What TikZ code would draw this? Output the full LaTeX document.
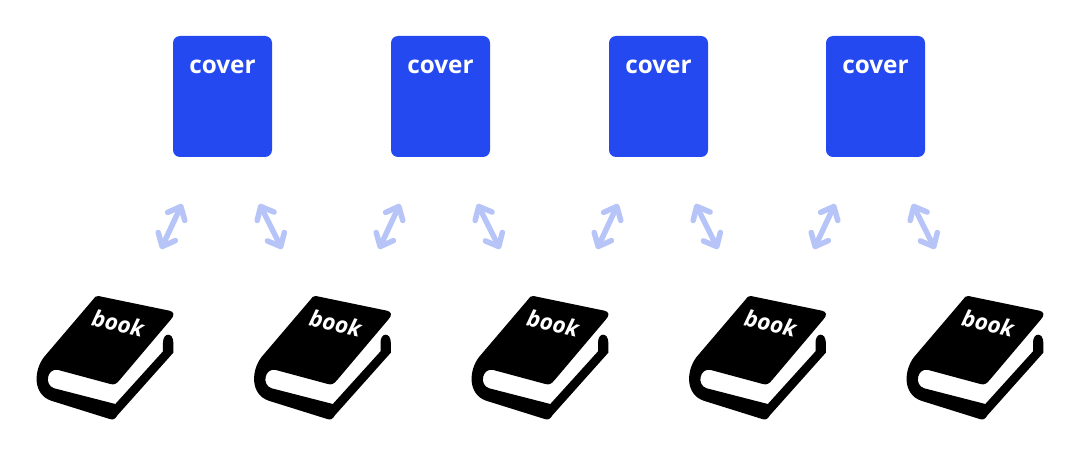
\documentclass[tikz,border=0pt]{standalone}
\usepackage{fontspec}
\setmainfont{Open Sans}
\usetikzlibrary{arrows.meta}
\definecolor{coverblue}{HTML}{2549F0}
\definecolor{arrowblue}{HTML}{B7C4F8}
\tikzset{
    coverbox/.style={fill=coverblue, rounded corners=7pt, minimum width=99pt, minimum height=121pt, inner sep=0pt},
    covertext/.style={text=white, font=\bfseries\fontsize{24.3}{24}\selectfont, inner sep=0pt},
    booktext/.style={text=white, font=\bfseries\itshape\fontsize{22.5}{24}\selectfont, inner sep=0pt, rotate=-13},
    linkarrow/.style={draw=arrowblue, line width=5.5pt, line cap=round, {Straight Barb[round,length=11pt,width=19pt]}-{Straight Barb[round,length=11pt,width=19pt]}},
    bookicon/.pic={
        \fill[black, scale=1/3] (232,48) -- (445,92) .. controls (460,95) and (461,106) .. (450,118)
            -- (296,300) .. controls (286,312) and (280,315) .. (268,312)
            -- (112,270) .. controls (78,262) and (68,316) .. (100,325)
            -- (283,372) -- (426,214) -- (426,188) .. controls (426,156) and (457,156) .. (457,188)
            -- (457,218) -- (290,405) .. controls (282,417) and (278,421) .. (266,417)
            -- (90,362) .. controls (34,342) and (38,270) .. (70,230) -- (215,60)
            .. controls (220,52) and (225,47) .. (232,48) -- cycle;
        \node[booktext] (-label) at (97,43) {book};
    }
}
\begin{document}
\begin{tikzpicture}[x=1pt, y=-1pt]
    \useasboundingbox (0,0) rectangle (1080,468);

    % Covers and their arrows
    \foreach \i/\x in {1/0,2/218,3/436,4/653} {
        \node[coverbox] (cover\i) at (222.5+\x,96.5) {};
        \node[covertext] (covertext\i) at (222.5+\x,67) {cover};
        \coordinate (leftup\i) at (182+\x,204);
        \coordinate (leftdown\i) at (161+\x,249);
        \coordinate (rightup\i) at (259.5+\x,204);
        \coordinate (rightdown\i) at (282+\x,249);
        \draw[linkarrow] (leftdown\i) -- (leftup\i);
        \draw[linkarrow] (rightup\i) -- (rightdown\i);
    }

    % Books
    \foreach \i/\x in {1/0,2/217.5,3/435,4/652.5,5/870} {
        \pic (book\i) at (21+\x,280) {bookicon};
    }
\end{tikzpicture}
\end{document}
